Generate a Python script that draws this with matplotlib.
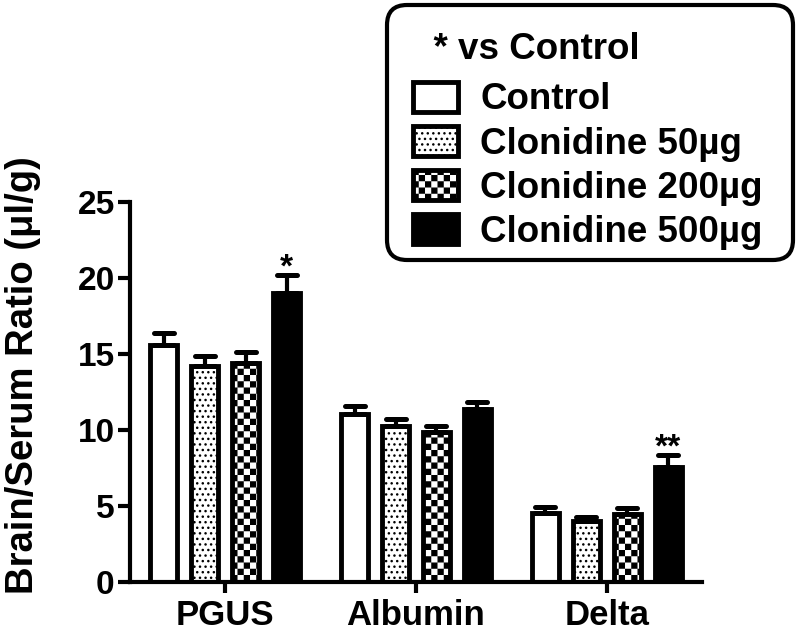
import numpy as np
import matplotlib
matplotlib.use("Agg")
import matplotlib.pyplot as plt
import matplotlib.hatch as mhatch
from matplotlib.path import Path
from matplotlib.markers import MarkerStyle
from matplotlib.patches import FancyBboxPatch

groups = ["PGUS", "Albumin", "Delta"]
series = ["Control", "Clonidine 50µg", "Clonidine 200µg", "Clonidine 500µg"]

control = [15.6, 11.05, 4.55]
clon50 = [14.2, 10.25, 4.0]
clon200 = [14.4, 9.9, 4.5]
clon500 = [19.0, 11.35, 7.55]

err_control = [0.8, 0.55, 0.4]
err_50 = [0.7, 0.45, 0.3]
err_200 = [0.7, 0.35, 0.4]
err_500 = [1.2, 0.5, 0.8]

stars_500 = ["*", "", "**"]
yticks = [0, 5, 10, 15, 20, 25]


# checkerboard hatch, hooked onto the 'O' character
class CheckerHatch(mhatch.HatchPatternBase):
    def __init__(self, hatch, density):
        self.n = hatch.count("O") * 16
        self.num_vertices = (self.n * self.n // 2) * 5

    def set_vertices_and_codes(self, vertices, codes):
        n = self.n
        s = 1.0 / n
        d = s * 0.11
        k = 0
        for i in range(n):
            for j in range(n):
                if (i + j) % 2:
                    continue
                x0, y0 = i * s + d, j * s + d
                x1, y1 = (i + 1) * s - d, (j + 1) * s - d
                vertices[k:k + 5] = [(x0, y0), (x1, y0), (x1, y1), (x0, y1), (x0, y0)]
                codes[k:k + 5] = [Path.MOVETO, Path.LINETO, Path.LINETO,
                                  Path.LINETO, Path.CLOSEPOLY]
                k += 5


mhatch._hatch_types[:] = [t for t in mhatch._hatch_types
                          if t is not mhatch.LargeCircles] + [CheckerHatch]

plt.rcParams["font.family"] = ["Liberation Sans", "DejaVu Sans"]
plt.rcParams["font.weight"] = "bold"
plt.rcParams["hatch.linewidth"] = 1.0

fig = plt.figure(figsize=(7.98, 6.36), dpi=100)
ax = fig.add_axes([130 / 798, 54 / 636, 572 / 798, 380 / 636])

values = [control, clon50, clon200, clon500]
errors = [err_control, err_50, err_200, err_500]
faces = ["white", "white", "white", "black"]
hatches = [None, "...", "O", None]

x = np.arange(len(groups))
step = 0.215
width = 0.142

for i in range(len(series)):
    pos = x + (i - 1.5) * step
    ax.bar(pos, values[i], width, color=faces[i], edgecolor="black",
           linewidth=3.5, hatch=hatches[i], label=series[i], zorder=2)
    eb = ax.errorbar(pos, values[i], yerr=[np.zeros(len(groups)), errors[i]],
                     fmt="none", ecolor="black", elinewidth=3, capsize=7,
                     capthick=3.6, zorder=3)
    for cap in eb[1]:
        cap.set_marker(MarkerStyle("_", capstyle="round"))

pos500 = x + 1.5 * step
for px, v, e, s in zip(pos500, clon500, err_500, stars_500):
    if s:
        ax.annotate(s, (px, v + e), xytext=(0, -6), textcoords="offset points",
                    ha="center", va="bottom", fontsize=24, fontweight="bold")

ax.set_xlim(-0.5, 2.5)
ax.set_ylim(0, 25)
ax.set_yticks(yticks)
ax.set_xticks(x)
ax.set_xticklabels(groups, fontsize=25)
ax.tick_params(axis="y", labelsize=24, width=3, length=9, pad=2)
ax.tick_params(axis="x", width=3, length=8, pad=4)
for side in ["top", "right"]:
    ax.spines[side].set_visible(False)
for side in ["left", "bottom"]:
    ax.spines[side].set_linewidth(3)

ax.set_ylabel("Brain/Serum Ratio (μl/g)", fontsize=27.5, fontweight="bold")
ax.yaxis.set_label_coords(-0.155, 0.545)

# rounded frame of the legend box (inches)
box = FancyBboxPatch((3.87, 3.76), 4.06, 2.55,
                     boxstyle="round,pad=0,rounding_size=0.2",
                     transform=fig.dpi_scale_trans, facecolor="white",
                     edgecolor="black", linewidth=3)
fig.add_artist(box)

leg = fig.legend(loc="upper left", bbox_to_anchor=(413 / 798, 1 - 32 / 636),
                 borderaxespad=0, title="  * vs Control", fontsize=26.5,
                 title_fontsize=26.5, handlelength=1.23, handleheight=0.88,
                 handletextpad=0.6, labelspacing=0.23, borderpad=0,
                 frameon=False)
leg._legend_box.align = "left"
leg._legend_box.sep = 10.5
leg.get_title().set_fontweight("bold")
for h in leg.legend_handles:
    h.set_linewidth(3.5)

fig.savefig("out.png", dpi=100)
